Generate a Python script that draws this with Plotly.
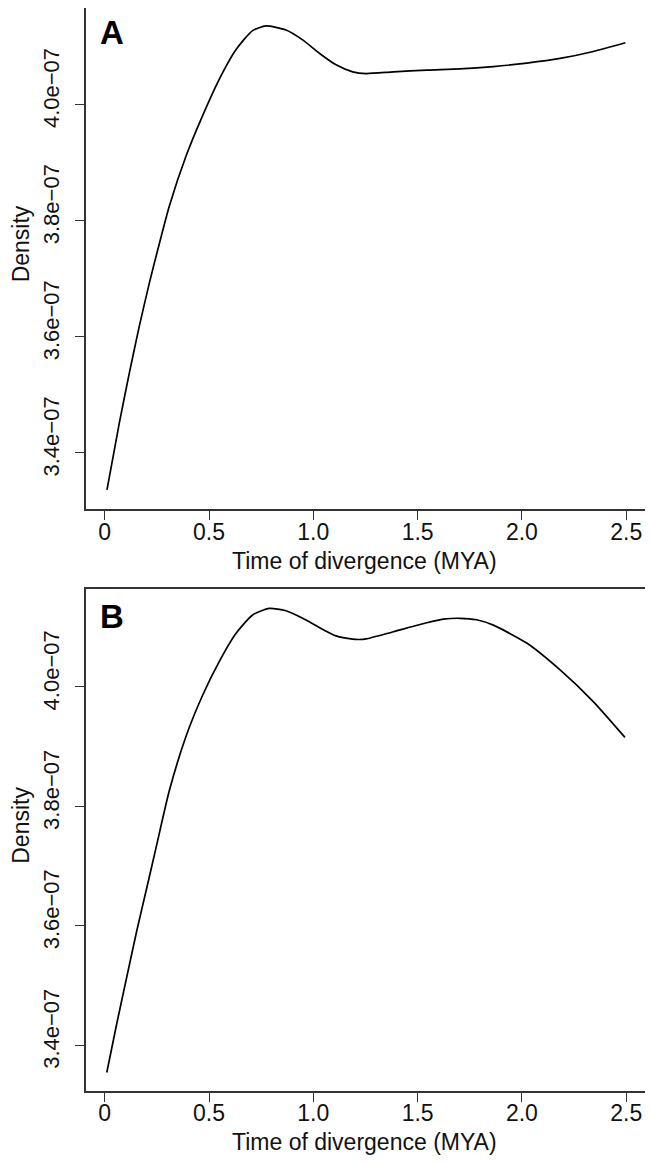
import plotly.graph_objects as go

# ---- data ----
time_a = [0.011, 0.070, 0.118, 0.166, 0.214, 0.254, 0.310, 0.390, 0.470, 0.549,
          0.629, 0.709, 0.773, 0.869, 0.949, 1.029, 1.109, 1.189, 1.253, 1.384,
          1.544, 1.703, 1.863, 2.023, 2.183, 2.342, 2.496]
density_a = [3.336e-07, 3.451e-07, 3.537e-07, 3.618e-07, 3.692e-07, 3.749e-07, 3.825e-07,
             3.911e-07, 3.981e-07, 4.043e-07, 4.094e-07, 4.127e-07, 4.135e-07, 4.128e-07,
             4.111e-07, 4.088e-07, 4.068e-07, 4.056e-07, 4.053e-07, 4.056e-07, 4.059e-07,
             4.061e-07, 4.065e-07, 4.071e-07, 4.079e-07, 4.091e-07, 4.106e-07]

time_b = [0.010, 0.058, 0.106, 0.153, 0.201, 0.246, 0.310, 0.390, 0.470, 0.549,
          0.629, 0.709, 0.789, 0.869, 0.949, 1.029, 1.109, 1.189, 1.220, 1.253,
          1.384, 1.544, 1.623, 1.703, 1.783, 1.863, 2.023, 2.183, 2.342, 2.494]
density_b = [3.354e-07, 3.436e-07, 3.514e-07, 3.590e-07, 3.662e-07, 3.730e-07, 3.826e-07,
             3.917e-07, 3.986e-07, 4.042e-07, 4.089e-07, 4.120e-07, 4.131e-07, 4.127e-07,
             4.1145e-07, 4.099e-07, 4.085e-07, 4.0795e-07, 4.079e-07, 4.080e-07, 4.092e-07,
             4.107e-07, 4.113e-07, 4.1145e-07, 4.112e-07, 4.103e-07, 4.073e-07, 4.028e-07,
             3.975e-07, 3.915e-07]

x_tickvals = [0, 0.5, 1.0, 1.5, 2.0, 2.5]
x_ticktext = ["0", "0.5", "1.0", "1.5", "2.0", "2.5"]
y_tickvals = [3.4e-07, 3.6e-07, 3.8e-07, 4.0e-07]
y_ticktext = ["3.4e\u221207", "3.6e\u221207", "3.8e\u221207", "4.0e\u221207"]
panel_labels = ["A", "B"]
x_title = "Time of divergence (MYA)"
y_title = "Density"

FONT = "Liberation Sans, Arial, Helvetica, sans-serif"
LINE_COL = "#333333"
TXT_COL = "#111111"

fig = go.Figure()
fig.add_trace(go.Scatter(x=time_a, y=density_a, mode="lines", xaxis="x", yaxis="y",
                         line=dict(color="black", width=1.7, shape="spline", smoothing=0.6),
                         showlegend=False))
fig.add_trace(go.Scatter(x=time_b, y=density_b, mode="lines", xaxis="x2", yaxis="y2",
                         line=dict(color="black", width=1.7, shape="spline", smoothing=0.6),
                         showlegend=False))

xcommon = dict(range=[-0.0896, 2.5996], tickvals=x_tickvals, ticktext=x_ticktext,
               ticks="outside", ticklen=9, tickwidth=1.3, tickcolor=LINE_COL,
               showline=True, linecolor=LINE_COL, linewidth=1.5, mirror=True,
               showgrid=False, zeroline=False, ticklabelstandoff=-8, automargin=False,
               tickfont=dict(family=FONT, size=23, color=TXT_COL))
ycommon = dict(tickvals=y_tickvals, ticktext=y_ticktext, tickangle=-90,
               ticks="outside", ticklen=9, tickwidth=1.3, tickcolor=LINE_COL,
               showline=True, linecolor=LINE_COL, linewidth=1.5, mirror=True,
               showgrid=False, zeroline=False, ticklabelshift=-13, ticklabelstandoff=7,
               automargin=False,
               tickfont=dict(family=FONT, size=22, color=TXT_COL))

# the page adds an 8px body margin, so the figure is sized to fit inside the window
fig.update_layout(
    template="none",
    width=645, height=1155,
    margin=dict(l=78, r=6, t=0, b=72, autoexpand=False),
    paper_bgcolor="white", plot_bgcolor="white",
    xaxis=dict(anchor="y", domain=[0, 1], **xcommon),
    yaxis=dict(anchor="x", domain=[0.5371, 1.0], range=[3.3025e-07, 4.1659e-07], **ycommon),
    xaxis2=dict(anchor="y2", domain=[0, 1], **xcommon),
    yaxis2=dict(anchor="x2", domain=[0.0, 0.4633], range=[3.3230e-07, 4.1631e-07], **ycommon),
    showlegend=False,
)

annos = []
for lbl, xref, yref, ypos in [(panel_labels[0], "x domain", "y domain", 0.952),
                              (panel_labels[1], "x2 domain", "y2 domain", 0.945)]:
    annos.append(dict(text="<b>%s</b>" % lbl, xref=xref, yref=yref,
                      x=0.046, y=ypos, xanchor="center", yanchor="middle",
                      showarrow=False, font=dict(family=FONT, size=33, color="black")))
# axis titles
for xref, yref, shift in [("x domain", "y domain", -52), ("x2 domain", "y2 domain", -51)]:
    annos.append(dict(text=x_title, xref=xref, yref=yref, x=0.497, y=0,
                      xanchor="center", yanchor="middle", yshift=shift,
                      showarrow=False, font=dict(family=FONT, size=23, color=TXT_COL)))
    annos.append(dict(text=y_title, textangle=-90, xref="paper", yref=yref,
                      x=-0.1164, y=0.53, xanchor="center", yanchor="middle",
                      showarrow=False, font=dict(family=FONT, size=23, color=TXT_COL)))
fig.update_layout(annotations=annos)

fig.write_html("out.html")
